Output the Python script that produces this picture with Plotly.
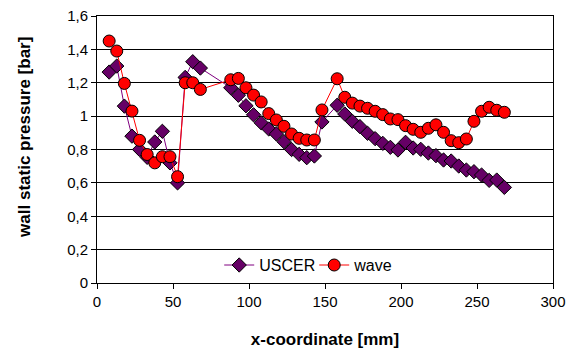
import plotly.graph_objects as go

x_uscer = [8, 13, 18, 23, 28, 33, 38, 43, 48, 53, 58, 63, 68,
           88, 93, 98, 103, 108, 113, 118, 123, 128, 133, 138, 143, 148,
           158, 163, 168, 173, 178, 183, 188, 193, 198, 203, 208, 213, 218,
           223, 228, 233, 238, 243, 248, 253, 258, 263, 268]
y_uscer = [1.264, 1.30, 1.06, 0.88, 0.80, 0.753, 0.845, 0.909, 0.72, 0.60, 1.232, 1.326, 1.288,
           1.17, 1.125, 1.062, 1.008, 0.96, 0.923, 0.893, 0.847, 0.80, 0.771, 0.751, 0.761, 0.965,
           1.065, 1.013, 0.969, 0.937, 0.897, 0.865, 0.837, 0.813, 0.797, 0.843, 0.809, 0.801, 0.779,
           0.763, 0.737, 0.731, 0.701, 0.677, 0.667, 0.647, 0.615, 0.617, 0.573]

x_wave = [8, 13, 18, 23, 28, 33, 38, 43, 48, 53, 58, 63, 68,
          88, 93, 98, 103, 108, 113, 118, 123, 128, 133, 138, 143, 148,
          158, 163, 168, 173, 178, 183, 188, 193, 198, 203, 208, 213, 218,
          223, 228, 233, 238, 243, 248, 253, 258, 263, 268]
y_wave = [1.45, 1.39, 1.196, 1.03, 0.855, 0.77, 0.72, 0.757, 0.757, 0.637, 1.20, 1.20, 1.16,
          1.218, 1.226, 1.17, 1.126, 1.085, 1.015, 0.977, 0.939, 0.893, 0.867, 0.857, 0.857, 1.037,
          1.224, 1.113, 1.078, 1.06, 1.047, 1.029, 1.009, 0.983, 0.979, 0.943, 0.921, 0.903, 0.927,
          0.948, 0.903, 0.853, 0.841, 0.863, 0.969, 1.029, 1.053, 1.035, 1.023]

y_tickvals = [0, 0.2, 0.4, 0.6, 0.8, 1.0, 1.2, 1.4, 1.6]
y_ticktext = ["0", "0,2", "0,4", "0,6", "0,8", "1", "1,2", "1,4", "1,6"]
x_tickvals = [0, 50, 100, 150, 200, 250, 300]

fig = go.Figure()
fig.add_trace(go.Scatter(
    x=x_uscer, y=y_uscer, name="USCER", mode="lines+markers",
    line=dict(color="#800080", width=1),
    marker=dict(symbol="diamond", size=11, color="#660066",
                line=dict(color="#000000", width=1)),
))
fig.add_trace(go.Scatter(
    x=x_wave, y=y_wave, name="wave", mode="lines+markers",
    line=dict(color="#ff0000", width=1),
    marker=dict(symbol="circle", size=12, color="#ff0000",
                line=dict(color="#000000", width=1)),
))

fig.update_layout(
    width=569, height=349,
    margin=dict(l=97, r=16, t=16, b=66),
    paper_bgcolor="white", plot_bgcolor="white",
    font=dict(family="Liberation Sans, Arial, sans-serif", size=15, color="#000000"),
    showlegend=True,
    legend=dict(orientation="h", x=0.268, xanchor="left", y=0.067, yanchor="middle",
                bgcolor="rgba(255,255,255,0)", font=dict(size=16),
                itemwidth=30, tracegroupgap=0, entrywidth=50, entrywidthmode="pixels"),
    annotations=[dict(
        text="<b>wall static pressure [bar]</b>", textangle=-90,
        xref="paper", yref="paper", x=-0.158, y=0.547,
        xanchor="center", yanchor="middle", showarrow=False,
        font=dict(size=17, color="#000000"),
    )],
)
fig.update_xaxes(
    range=[0, 300], tickvals=x_tickvals, ticks="outside", ticklen=5, tickcolor="#000000",
    showgrid=False, showline=True, linecolor="#000000", linewidth=1, mirror=True,
    zeroline=False, tickfont=dict(size=15), automargin=False,
    title=dict(text="<b>x-coordinate [mm]</b>", font=dict(size=17), standoff=28),
)
fig.update_yaxes(
    range=[0, 1.6], tickvals=y_tickvals, ticktext=y_ticktext, ticks="outside", ticklen=5,
    tickcolor="#000000", showgrid=True, gridcolor="#000000", gridwidth=1,
    showline=True, linecolor="#000000", linewidth=1, mirror=True,
    zeroline=False, tickfont=dict(size=15), automargin=False,
)

fig.write_html("out.html", config={"displayModeBar": False},
               post_script="document.body.style.margin='0';")
